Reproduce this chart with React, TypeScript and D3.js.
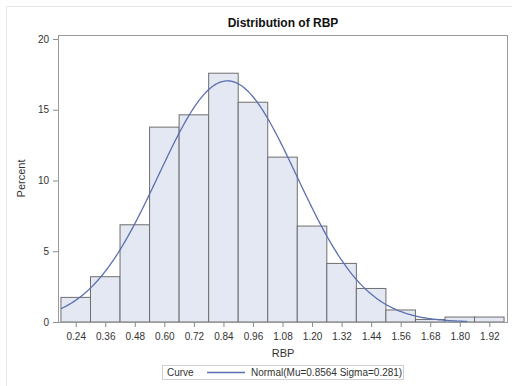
import React, { useEffect, useRef } from 'react';
import * as d3 from 'd3';

// bin midpoints (RBP) and percent per bin
const binMids = [0.24, 0.36, 0.48, 0.6, 0.72, 0.84, 0.96, 1.08, 1.2, 1.32, 1.44, 1.56, 1.68, 1.8, 1.92];
const percents = [1.74, 3.2, 6.87, 13.77, 14.64, 17.58, 15.53, 11.65, 6.78, 4.14, 2.37, 0.85, 0.18, 0.35, 0.35];
const yTicks = [0, 5, 10, 15, 20];
const binWidth = 0.12;

// fitted normal from the legend
const mu = 0.8564;
const sigma = 0.281;
const curveRange = [0.18, 1.83];

const App = () => {
  const ref = useRef<SVGSVGElement>(null);

  useEffect(() => {
    const svg = d3.select(ref.current);
    svg.selectAll('*').remove();
    const width = 512;
    const height = 386;
    const margin = { top: 35, right: 4, bottom: 64, left: 58 };
    const font = '"Liberation Sans", Arial, sans-serif';

    // faint outer frame
    svg.append('rect')
      .attr('x', 6.5).attr('y', 6.5)
      .attr('width', 520).attr('height', 400)
      .attr('fill', 'none').attr('stroke', '#e6e6e6');

    const x = d3.scaleLinear()
      .domain([0.168, 1.996])
      .range([margin.left, width - margin.right]);
    const y = d3.scaleLinear()
      .domain([0, 20.28])
      .range([height - margin.bottom, margin.top]);

    // bars
    svg.selectAll('.bar')
      .data(binMids.map((m, i) => ({ m, p: percents[i] })))
      .enter().append('rect')
      .attr('class', 'bar')
      .attr('x', d => x(d.m - binWidth / 2))
      .attr('width', d => x(d.m + binWidth / 2) - x(d.m - binWidth / 2))
      .attr('y', d => y(d.p))
      .attr('height', d => y(0) - y(d.p))
      .attr('fill', '#e3e8f2')
      .attr('stroke', '#6e6e6e')
      .attr('stroke-width', 1);

    // normal curve scaled to percent
    const pts = d3.range(curveRange[0], curveRange[1] + 0.001, 0.005).map(v => ({
      v,
      p: 100 * binWidth * Math.exp(-0.5 * ((v - mu) / sigma) ** 2) / (sigma * Math.sqrt(2 * Math.PI)),
    }));
    const line = d3.line<{ v: number; p: number }>()
      .x(d => x(d.v))
      .y(d => y(d.p));
    svg.append('path')
      .datum(pts)
      .attr('fill', 'none')
      .attr('stroke', '#5b6fb3')
      .attr('stroke-width', 1.3)
      .attr('d', line);

    // plot frame
    svg.append('rect')
      .attr('x', margin.left + 0.5).attr('y', margin.top + 0.5)
      .attr('width', width - margin.right - margin.left - 1)
      .attr('height', height - margin.bottom - margin.top)
      .attr('fill', 'none')
      .attr('stroke', '#9a9a9a');

    // x axis
    const xAxis = svg.append('g')
      .attr('transform', `translate(0,${height - margin.bottom})`)
      .call(d3.axisBottom(x).tickValues(binMids).tickFormat(d3.format('.2f')).tickSize(5).tickSizeOuter(0));
    xAxis.select('.domain').remove();
    xAxis.selectAll('line').attr('stroke', '#8a8a8a');
    xAxis.selectAll('text')
      .attr('dy', '1em')
      .style('font-family', font)
      .style('font-size', '10px')
      .attr('fill', '#333');

    // y axis
    const yAxis = svg.append('g')
      .attr('transform', `translate(${margin.left},0)`)
      .call(d3.axisLeft(y).tickValues(yTicks).tickSize(5).tickSizeOuter(0));
    yAxis.select('.domain').remove();
    yAxis.selectAll('line').attr('stroke', '#8a8a8a');
    yAxis.selectAll('text')
      .attr('x', -9)
      .style('font-family', font)
      .style('font-size', '10px')
      .attr('fill', '#333');

    // titles
    svg.append('text')
      .attr('x', (margin.left + width - margin.right) / 2)
      .attr('y', 27)
      .attr('text-anchor', 'middle')
      .style('font-family', font)
      .style('font-size', '12px')
      .style('font-weight', 'bold')
      .attr('fill', '#111')
      .text('Distribution of RBP');

    svg.append('text')
      .attr('x', (margin.left + width - margin.right) / 2)
      .attr('y', 357)
      .attr('text-anchor', 'middle')
      .style('font-family', font)
      .style('font-size', '11px')
      .attr('fill', '#333')
      .text('RBP');

    svg.append('text')
      .attr('transform', `translate(25,${(margin.top + height - margin.bottom) / 2}) rotate(-90)`)
      .attr('text-anchor', 'middle')
      .style('font-family', font)
      .style('font-size', '11px')
      .attr('fill', '#333')
      .text('Percent');

    // legend
    const lg = svg.append('g');
    lg.append('rect')
      .attr('x', 162.5).attr('y', 365.5)
      .attr('width', 241).attr('height', 14)
      .attr('fill', 'white').attr('stroke', '#d0d0d0');
    lg.append('text')
      .attr('x', 167).attr('y', 376)
      .style('font-family', font).style('font-size', '10px')
      .attr('fill', '#333')
      .text('Curve');
    lg.append('line')
      .attr('x1', 207).attr('x2', 245)
      .attr('y1', 372.5).attr('y2', 372.5)
      .attr('stroke', '#5b6fb3').attr('stroke-width', 1.3);
    lg.append('text')
      .attr('x', 251).attr('y', 376)
      .style('font-family', font).style('font-size', '10px')
      .attr('fill', '#333')
      .text('Normal(Mu=0.8564 Sigma=0.281)');
  }, []);

  return (
    <svg ref={ref} width={512} height={386} style={{ position: 'absolute', left: 0, top: 0, background: 'white' }} />
  );
};

export default App;
